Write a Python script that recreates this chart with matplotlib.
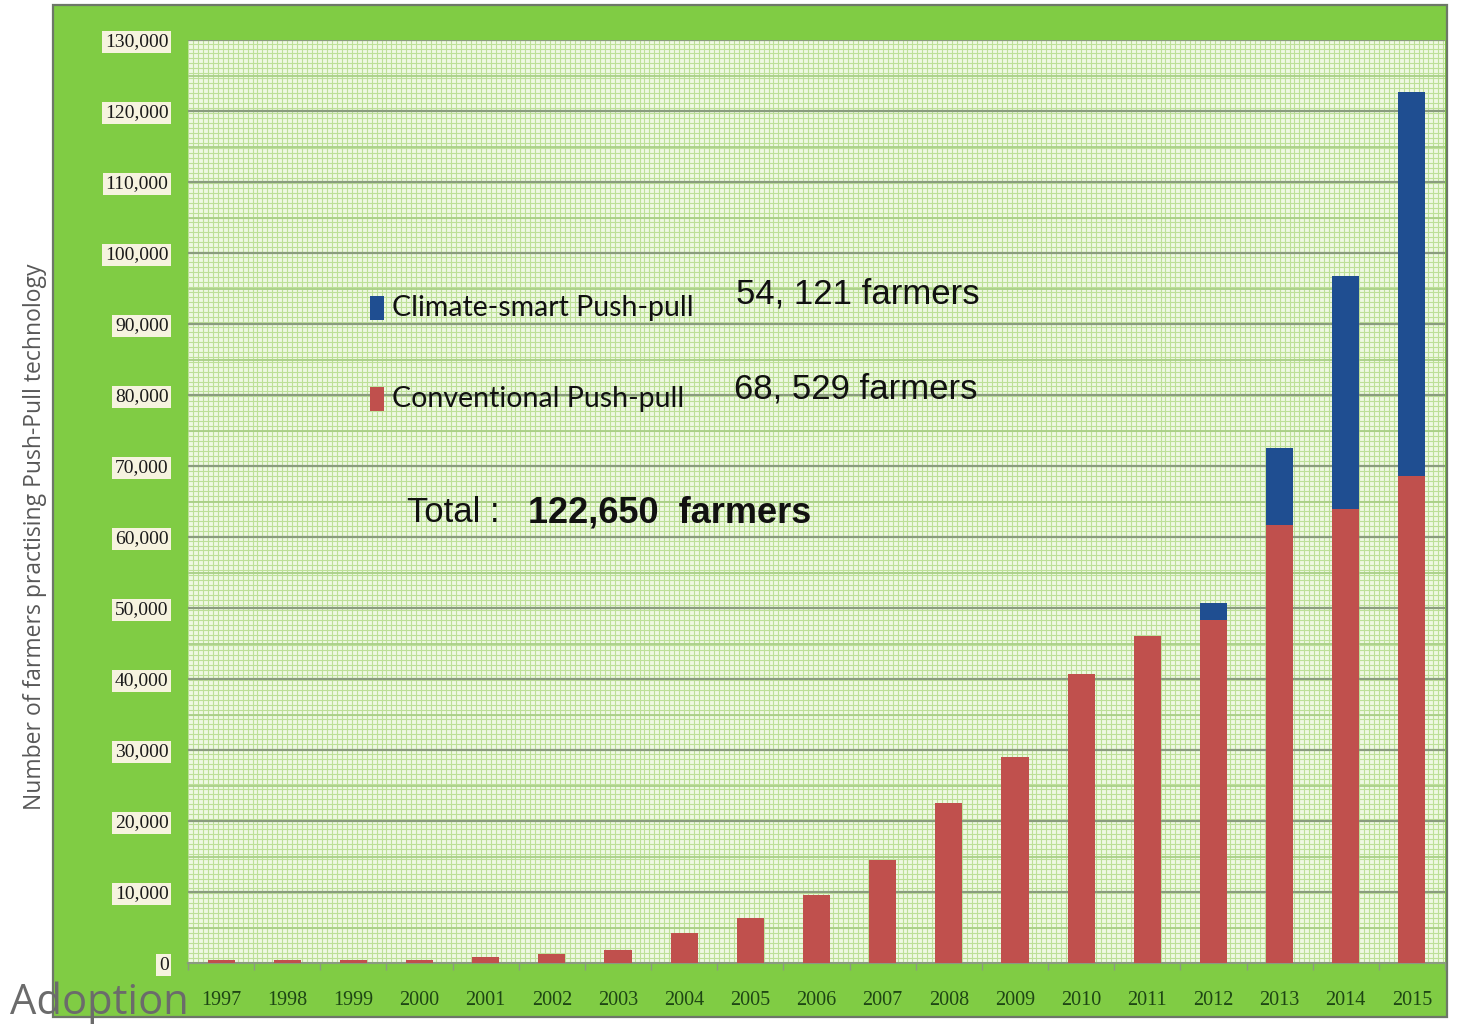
import numpy as np
import matplotlib
matplotlib.use("Agg")
import matplotlib.pyplot as plt
from matplotlib.patches import Rectangle
from matplotlib.ticker import FixedLocator

# ---- data -------------------------------------------------------------
years = ['1997', '1998', '1999', '2000', '2001', '2002', '2003', '2004',
         '2005', '2006', '2007', '2008', '2009', '2010', '2011', '2012',
         '2013', '2014', '2015']
conventional = [400, 400, 450, 450, 800, 1300, 1800, 4200, 6300, 9600,
                14500, 22500, 29000, 40700, 46000, 48300, 61700, 64000, 68529]
climate_smart = [0, 0, 0, 0, 0, 0, 0, 0, 0, 0,
                 0, 0, 0, 0, 0, 2400, 10800, 32800, 54121]
y_ticks = [0, 10000, 20000, 30000, 40000, 50000, 60000, 70000, 80000,
           90000, 100000, 110000, 120000, 130000]
y_tick_labels = ['0', '10,000', '20,000', '30,000', '40,000', '50,000',
                 '60,000', '70,000', '80,000', '90,000', '100,000',
                 '110,000', '120,000', '130,000']
series_names = ['Climate-smart Push-pull', 'Conventional Push-pull']
series_totals = ['54, 121 farmers', '68, 529 farmers']

# ---- colours ----------------------------------------------------------
RED = '#c0504d'
BLUE = '#1f4e91'
PANEL = '#80cc44'
PLOT_BG = '#eff9e3'
MINOR = '#bde098'
MAJOR = '#8a9c7e'

W, H = 1461, 1025


def fx(px):
    return px / W


def fy(py):
    return 1 - py / H


fig = plt.figure(figsize=(W / 100, H / 100), dpi=100)
fig.patch.set_facecolor('white')

# green chart panel
panel = Rectangle((fx(53), fy(1017)), fx(1447) - fx(53), fy(5) - fy(1017),
                  transform=fig.transFigure, facecolor=PANEL,
                  edgecolor='#6d7768', lw=1.6, zorder=-5)
fig.patches.append(panel)

ax = fig.add_axes([fx(188), fy(963), fx(1445) - fx(188), fy(40) - fy(963)])
ax.set_facecolor(PLOT_BG)

n = len(years)
x = np.arange(n)
ax.set_xlim(-0.5, n - 0.5)
ax.set_ylim(0, 130000)

# fine mesh background
ax.vlines(np.arange(-0.5, n - 0.5, 0.075), 0, 1,
          transform=ax.get_xaxis_transform(), color=MINOR, lw=0.8, zorder=0)
ax.hlines(np.arange(0, 130001, 700), 0, 1,
          transform=ax.get_yaxis_transform(), color=MINOR, lw=0.8, zorder=0)
ax.hlines(np.arange(5000, 130000, 10000), 0, 1,
          transform=ax.get_yaxis_transform(), color='#a9cf86', lw=1.3, zorder=0)
ax.hlines(y_ticks[1:], 0, 1,
          transform=ax.get_yaxis_transform(), color=MAJOR, lw=1.6, zorder=1)

# stacked bars
ax.bar(x, conventional, width=0.41, color=RED, zorder=3)
ax.bar(x, climate_smart, bottom=conventional, width=0.41, color=BLUE, zorder=3)

# axes styling
for side in ['top', 'right', 'left']:
    ax.spines[side].set_visible(False)
ax.spines['bottom'].set_color('#8a9a80')
ax.spines['bottom'].set_linewidth(1.5)

ax.yaxis.set_major_locator(FixedLocator(y_ticks))
ax.set_yticklabels(y_tick_labels, fontfamily='Liberation Serif', fontsize=14,
                   color='#1a1a1a')
ax.tick_params(axis='y', length=0, pad=14)
for lab in ax.get_yticklabels():
    lab.set_bbox(dict(boxstyle='square,pad=0.15', facecolor='#f6f3df',
                      edgecolor='none'))

ax.set_xticks(x)
ax.set_xticklabels(years, fontfamily='Liberation Serif', fontsize=14.5,
                   color='#1e4614')
ax.tick_params(axis='x', length=0, pad=20)
ax.xaxis.set_minor_locator(FixedLocator(np.arange(-0.5, n, 1.0)))
ax.tick_params(axis='x', which='minor', length=5, color='#8a9a80', width=1)

# y axis title
fig.text(fx(35), fy(537), 'Number of farmers practising Push-Pull technology',
         rotation=90, ha='center', va='center', fontsize=16.5,
         family='Open Sans', color='#585858')

# in-chart legend and totals
for (col, name, ymid) in [(BLUE, series_names[0], 308),
                          (RED, series_names[1], 399)]:
    fig.patches.append(Rectangle((fx(370), fy(ymid + 12)), fx(384) - fx(370),
                                 fy(ymid - 12) - fy(ymid + 12),
                                 transform=fig.transFigure, facecolor=col,
                                 edgecolor='none', zorder=5))
    fig.text(fx(392), fy(ymid), name, ha='left', va='center', fontsize=20.5,
             family='Lato', color='#111111', zorder=6)

fig.text(fx(736), fy(294), series_totals[0], ha='left', va='center',
         fontsize=25, family='Liberation Sans', color='#111111', zorder=6)
fig.text(fx(734), fy(389), series_totals[1], ha='left', va='center',
         fontsize=25, family='Liberation Sans', color='#111111', zorder=6)

fig.text(fx(407), fy(513), 'Total :', ha='left', va='center', fontsize=25,
         family='Liberation Sans', color='#111111', zorder=6)
fig.text(fx(528), fy(513), '122,650  farmers', ha='left', va='center',
         fontsize=26, family='Liberation Sans', fontweight='bold',
         color='#111111', zorder=6)

# corner caption
fig.text(fx(10), fy(1014), 'Adoption', ha='left', va='baseline', fontsize=30,
         family='Open Sans', color='#6b6b6b', zorder=10)

fig.savefig('out.png', dpi=100, facecolor='white')
